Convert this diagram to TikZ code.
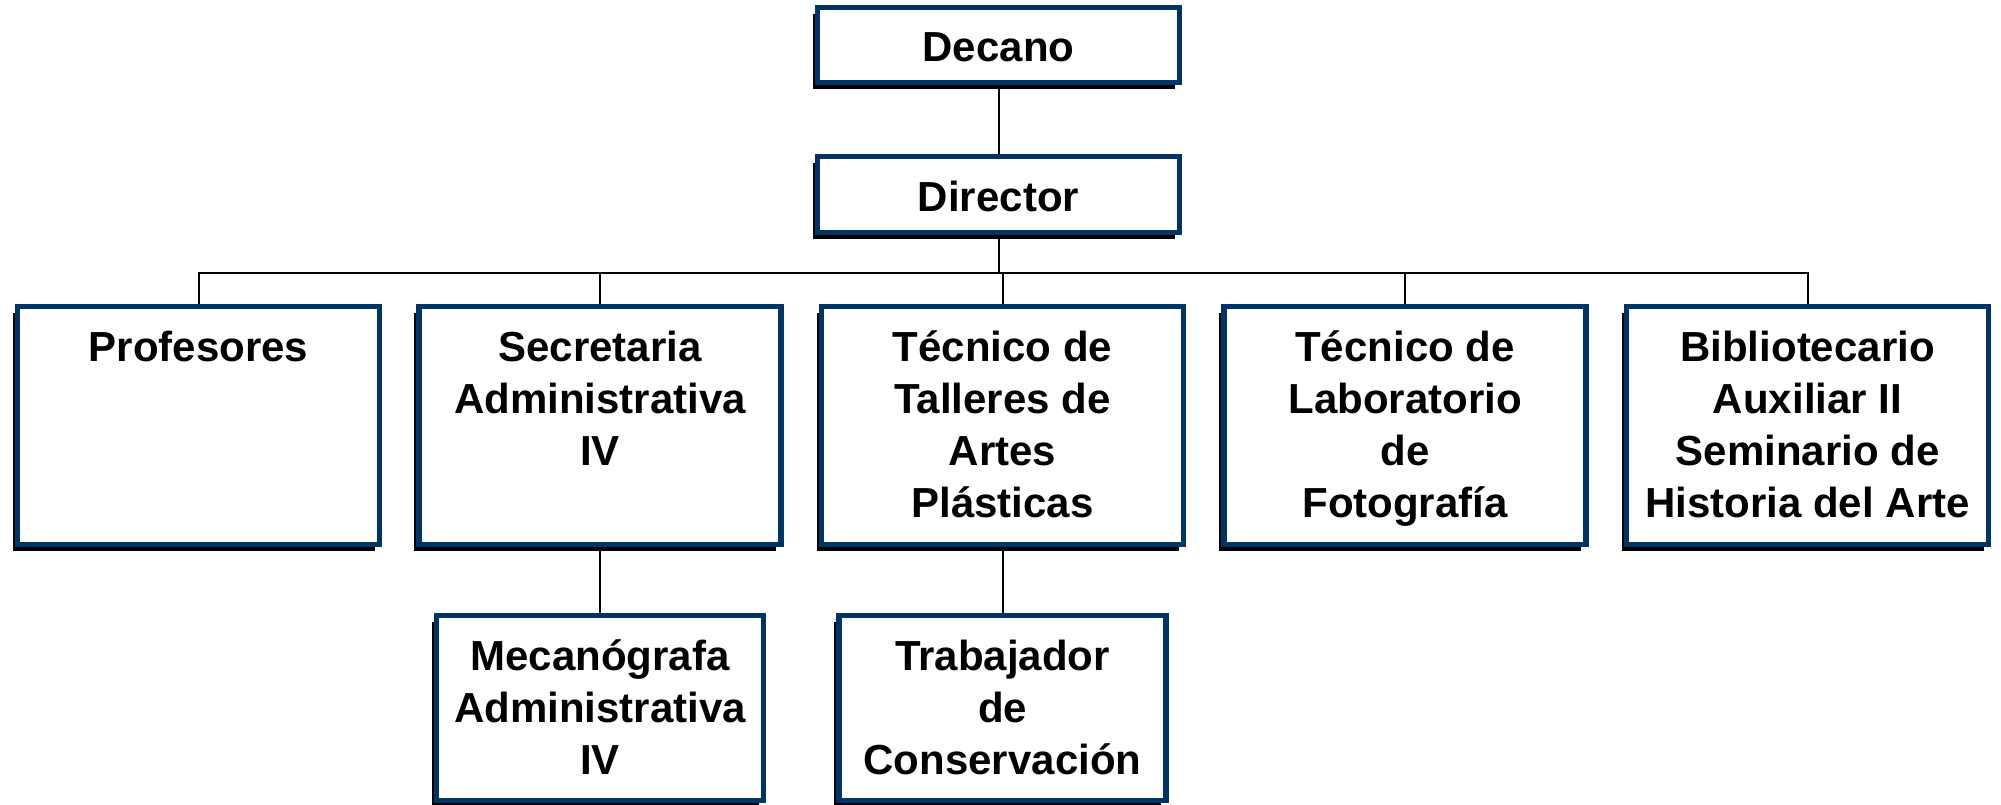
\documentclass[tikz,border=0pt]{standalone}
\usepackage{fontspec}
\setmainfont{Liberation Sans}
\usetikzlibrary{shadows,backgrounds}
\definecolor{navy}{RGB}{0,51,102}
\tikzset{
  orgbox/.style={draw=navy, line width=5.5pt, fill=white, inner sep=0pt,
    general shadow={shadow xshift=-5pt, shadow yshift=-6.5pt, fill=black}},
  link/.style={line width=2pt, draw=black}
}
\newcommand\boxtext[3]{\parbox[c][#2][t]{#1}{\fontsize{42}{52}\selectfont\bfseries\centering\rule{0pt}{54.5pt}#3}}
\begin{document}
\begin{tikzpicture}[x=1pt,y=-1pt]
\useasboundingbox (0,0) rectangle (2001,805);
\node[orgbox] (decano) at (998.5,45) {\boxtext{362pt}{75pt}{Decano}};
\node[orgbox] (director) at (998.5,194.5) {\boxtext{362pt}{76pt}{Director}};
\node[orgbox] (prof) at (198.5,425.5) {\boxtext{362pt}{238pt}{Profesores}};
\node[orgbox] (secr) at (600,425.5) {\boxtext{362pt}{238pt}{Secretaria\\Administrativa\\IV}};
\node[orgbox] (tall) at (1002.5,425.5) {\boxtext{362pt}{238pt}{Técnico de\\Talleres de\\Artes\\Plásticas}};
\node[orgbox] (lab) at (1405,425.5) {\boxtext{362pt}{238pt}{Técnico de\\Laboratorio\\de\\Fotografía}};
\node[orgbox] (bib) at (1807.5,425.5) {\boxtext{362pt}{238pt}{Bibliotecario\\Auxiliar II\\Seminario de\\Historia del Arte}};
\node[orgbox] (meca) at (600,708) {\boxtext{327pt}{185pt}{Mecanógrafa\\Administrativa\\IV}};
\node[orgbox] (trab) at (1002.5,708) {\boxtext{327pt}{185pt}{Trabajador\\de\\Conservación}};
\coordinate (bus) at (998.5,273);
\begin{scope}[on background layer]
\draw[link] (decano.south) -- (director.north);
\draw[link] (director.south) -- (bus);
\draw[link] (prof.north) -- (prof.north |- bus) -- (bib.north |- bus) -- (bib.north);
\draw[link] (secr.north) -- (secr.north |- bus);
\draw[link] (tall.north) -- (tall.north |- bus);
\draw[link] (lab.north) -- (lab.north |- bus);
\draw[link] (secr.south) -- (meca.north);
\draw[link] (tall.south) -- (trab.north);
\end{scope}
\end{tikzpicture}
\end{document}
